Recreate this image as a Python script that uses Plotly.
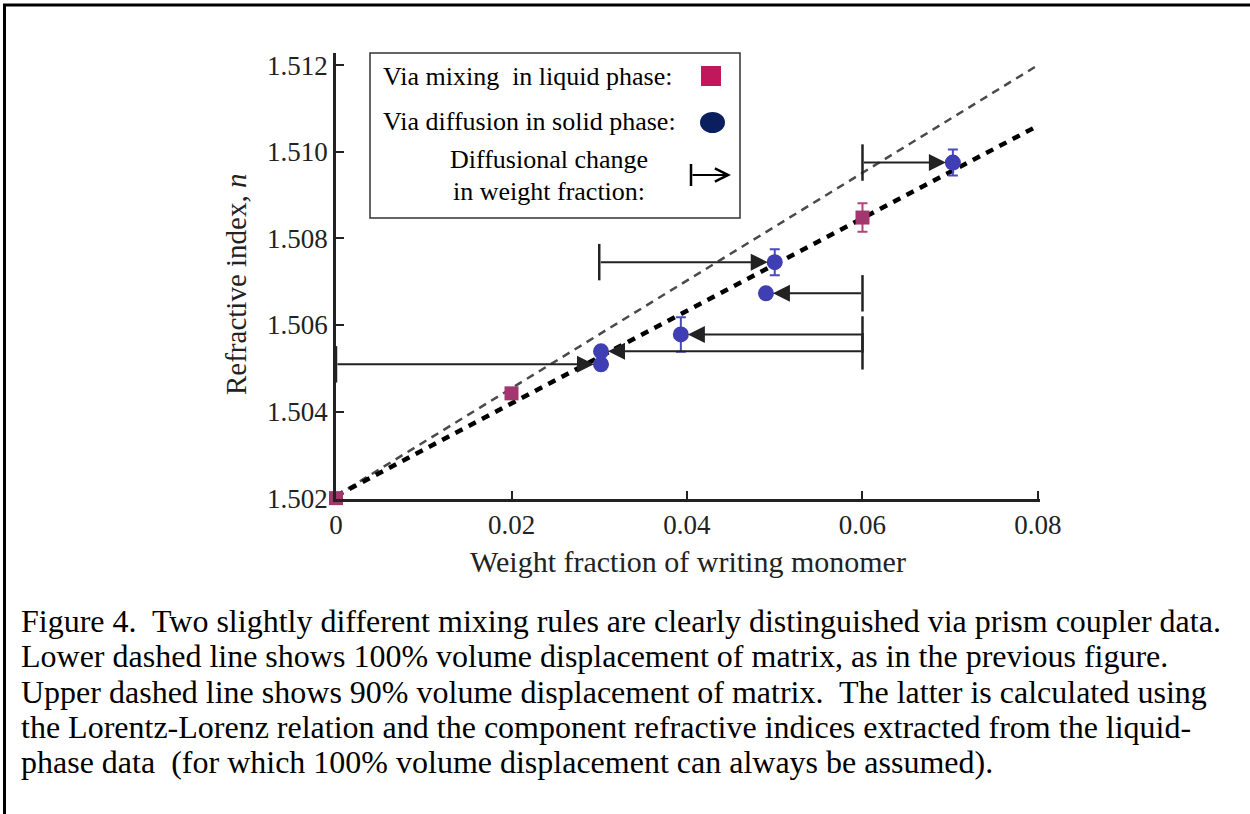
import plotly.graph_objects as go

W, H = 1250, 814

# Liquid-phase mixing measurements
liq_x = [0.0, 0.02, 0.06]
liq_n = [1.50200, 1.50442, 1.50848]
liq_err = [0.0, 0.0, 0.00033]

# Solid-phase diffusion measurements (final weight fraction)
sol_x = [0.0703, 0.0500, 0.0490, 0.0393, 0.0302, 0.0302]
sol_n = [1.50975, 1.50745, 1.50673, 1.50578, 1.50539, 1.50509]
sol_err = [0.0003, 0.0003, 0.0, 0.0004, 0.0, 0.0]

# Starting weight fraction before diffusion
start_x = [0.06, 0.03, 0.06, 0.06, 0.06, 0.0]

# Mixing-rule model lines
model_x = [0.0, 0.08]
upper_n = [1.50205, 1.51200]   # 90% volume displacement
lower_n = [1.50205, 1.51060]   # 100% volume displacement

x_ticks = [0, 0.02, 0.04, 0.06, 0.08]
x_ticklabels = ["0", "0.02", "0.04", "0.06", "0.08"]
y_ticks = [1.502, 1.504, 1.506, 1.508, 1.510, 1.512]
y_ticklabels = ["1.502", "1.504", "1.506", "1.508", "1.510", "1.512"]

caption = [
    "Figure 4.  Two slightly different mixing rules are clearly distinguished via prism coupler data.",
    "Lower dashed line shows 100% volume displacement of matrix, as in the previous figure.",
    "Upper dashed line shows 90% volume displacement of matrix.  The latter is calculated using",
    "the Lorentz-Lorenz relation and the component refractive indices extracted from the liquid-",
    "phase data  (for which 100% volume displacement can always be assumed).",
]

SERIF = "Liberation Serif, Times New Roman, serif"


def px(x):
    return x / W


def py(y):
    return 1 - y / H


fig = go.Figure()

fig.add_trace(go.Scatter(x=model_x, y=upper_n, mode="lines",
                         line=dict(color="#4a4a4a", width=2.5, dash="8px,6px"),
                         hoverinfo="skip", showlegend=False))
fig.add_trace(go.Scatter(x=model_x, y=lower_n, mode="lines",
                         line=dict(color="black", width=4.5, dash="8px,7px"),
                         hoverinfo="skip", showlegend=False))

# Start-of-diffusion bars
fig.add_trace(go.Scatter(x=start_x, y=sol_n, mode="markers", cliponaxis=False,
                         marker=dict(symbol="line-ns-open", size=26, color="#222",
                                     line=dict(color="#222", width=2.5)),
                         hoverinfo="skip", showlegend=False))

fig.add_trace(go.Scatter(x=liq_x, y=liq_n, mode="markers", cliponaxis=False,
                         marker=dict(symbol="square", size=14, color="#a3356f"),
                         error_y=dict(type="data", array=liq_err, visible=True,
                                      color="#b0447c", thickness=2, width=5),
                         showlegend=False))
fig.add_trace(go.Scatter(x=sol_x, y=sol_n, mode="markers", cliponaxis=False,
                         marker=dict(symbol="circle", size=16, color="#3f3fb3"),
                         error_y=dict(type="data", array=sol_err, visible=True,
                                      color="#4a4ac0", thickness=2, width=5),
                         showlegend=False))

annotations = []
for x0, x1, n in zip(start_x, sol_x, sol_n):
    annotations.append(dict(x=x1, y=n, ax=x0, ay=n, xref="x", yref="y",
                            axref="x", ayref="y", text="", showarrow=True,
                            arrowhead=2, arrowsize=1.7, arrowwidth=2,
                            arrowcolor="#222", standoff=7))

LEG = dict(family=SERIF, size=26, color="black")
# Legend box contents
annotations += [
    dict(x=px(381), y=py(76), xref="paper", yref="paper", xanchor="left", yanchor="middle",
         text="Via mixing  in liquid phase:", showarrow=False, font=LEG),
    dict(x=px(381), y=py(122), xref="paper", yref="paper", xanchor="left", yanchor="middle",
         text="Via diffusion in solid phase:", showarrow=False, font=LEG),
    dict(x=px(549), y=py(160), xref="paper", yref="paper", xanchor="center", yanchor="middle",
         text="Diffusional change", showarrow=False, font=LEG),
    dict(x=px(549), y=py(192), xref="paper", yref="paper", xanchor="center", yanchor="middle",
         text="in weight fraction:", showarrow=False, font=LEG),
    dict(x=px(731), y=py(175), xref="paper", yref="paper", ax=-40, ay=0, text="",
         showarrow=True, arrowhead=5, arrowsize=1.3, arrowwidth=2, arrowcolor="black"),
]

# y-axis title
annotations.append(dict(x=px(236), y=py(285), xref="paper", yref="paper",
                        xanchor="center", yanchor="middle", textangle=-90,
                        text="Refractive index, <i>n</i>", showarrow=False,
                        font=dict(family=SERIF, size=29, color="#222")))

for i, line in enumerate(caption):
    annotations.append(dict(x=px(19), y=py(621 + 35.3 * i), xref="paper", yref="paper",
                            xanchor="left", yanchor="middle", text=line, showarrow=False,
                            font=dict(family=SERIF, size=32, color="black")))

shapes = [
    # page frame (top and left edges)
    dict(type="line", xref="paper", yref="paper", x0=px(3), x1=1, y0=py(5), y1=py(5),
         line=dict(color="black", width=3)),
    dict(type="line", xref="paper", yref="paper", x0=px(4.5), x1=px(4.5), y0=py(4), y1=0,
         line=dict(color="black", width=3)),
    # legend frame
    dict(type="rect", xref="paper", yref="paper", x0=px(370), x1=px(740), y0=py(218), y1=py(53),
         line=dict(color="#333", width=1.5), fillcolor="white", layer="above"),
    dict(type="rect", xref="paper", yref="paper", x0=px(701), x1=px(721), y0=py(86), y1=py(66),
         line=dict(width=0), fillcolor="#c0185a", layer="above"),
    dict(type="circle", xref="paper", yref="paper", x0=px(700), x1=px(725), y0=py(133), y1=py(112),
         line=dict(width=0), fillcolor="#0b1f5e", layer="above"),
    dict(type="line", xref="paper", yref="paper", x0=px(691), x1=px(691), y0=py(186), y1=py(164),
         line=dict(color="black", width=2.5), layer="above"),
]

fig.update_layout(
    width=W, height=H,
    margin=dict(l=0, r=0, t=0, b=0, autoexpand=False),
    paper_bgcolor="white", plot_bgcolor="white",
    showlegend=False,
    annotations=annotations,
    shapes=shapes,
    xaxis=dict(domain=[px(336), px(1040)], range=[0, 0.08023],
               tickvals=x_ticks, ticktext=x_ticklabels,
               ticks="inside", ticklen=8, tickwidth=2, tickcolor="#222",
               showline=True, linecolor="#222", linewidth=2.5,
               showgrid=False, zeroline=False,
               tickfont=dict(family=SERIF, size=27, color="#222"),
               title=dict(text="Weight fraction of writing monomer", standoff=12,
                          font=dict(family=SERIF, size=30, color="#222"))),
    yaxis=dict(domain=[py(499), py(53)], range=[1.50198, 1.51228],
               tickvals=y_ticks, ticktext=y_ticklabels,
               ticks="inside", ticklen=8, tickwidth=2, tickcolor="#222",
               showline=True, linecolor="#222", linewidth=2.5,
               showgrid=False, zeroline=False,
               tickfont=dict(family=SERIF, size=27, color="#222")),
)

fig.write_html("out.html")
